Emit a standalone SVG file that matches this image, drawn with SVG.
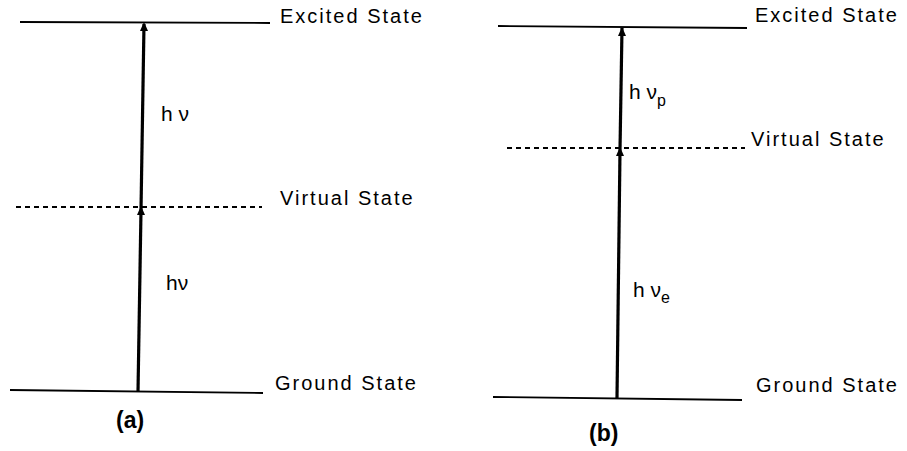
<svg xmlns="http://www.w3.org/2000/svg" width="907" height="451" viewBox="0 0 907 451">
<style>
.lvl{stroke:#000;stroke-width:1.8;fill:none}
.dash{stroke:#000;stroke-width:1.8;stroke-dasharray:5 4;fill:none}
.arr{stroke:#000;stroke-width:3.2;fill:none}
.lab{font-family:"Liberation Sans",Arial,sans-serif;font-size:20px;letter-spacing:2px;fill:#000}
.hv{font-family:"Liberation Sans",Arial,sans-serif;font-size:21px;fill:#000}
.sub{font-size:16px}
.cap{font-family:"Liberation Sans",Arial,sans-serif;font-size:23px;font-weight:bold;fill:#000}
.head{fill:#000}
</style>
<rect width="907" height="451" fill="#fff"/>
<g id="connectors">
<line class="arr" x1="138" y1="392" x2="141" y2="210"/>
<line class="arr" x1="141" y1="210" x2="144" y2="24"/>
<path class="head" d="M144,22 L148,31 L140,31 Z"/>
<path class="head" d="M141,206 L145,215 L137,215 Z"/>
<line class="arr" x1="617" y1="398" x2="620" y2="150"/>
<line class="arr" x1="620" y1="150" x2="622" y2="28"/>
<path class="head" d="M622,27 L626,36 L618,36 Z"/>
<path class="head" d="M620,147 L624,156 L616,156 Z"/>
</g>
<g id="panel-a">
<g id="a-excited"><line class="lvl" x1="20" y1="22" x2="270" y2="23"/><text class="lab" x="280" y="23">Excited State</text></g>
<g id="a-virtual"><line class="dash" x1="16" y1="207" x2="262" y2="207"/><text class="lab" x="280" y="205">Virtual State</text></g>
<g id="a-ground"><line class="lvl" x1="10" y1="390" x2="263" y2="393"/><text class="lab" x="275" y="390">Ground State</text></g>
<text class="hv" x="161" y="121">h ν</text>
<text class="hv" x="166" y="290">hν</text>
<text class="cap" x="116" y="428">(a)</text>
</g>
<g id="panel-b">
<g id="b-excited"><line class="lvl" x1="498" y1="26" x2="747" y2="28"/><text class="lab" x="755" y="22">Excited State</text></g>
<g id="b-virtual"><line class="dash" x1="507" y1="148" x2="745" y2="148"/><text class="lab" x="751" y="146">Virtual State</text></g>
<g id="b-ground"><line class="lvl" x1="493" y1="397" x2="742" y2="400"/><text class="lab" x="756" y="392">Ground State</text></g>
<text class="hv" x="629" y="99">h ν<tspan class="sub" dy="7">p</tspan></text>
<text class="hv" x="633" y="297">h ν<tspan class="sub" dy="6">e</tspan></text>
<text class="cap" x="589" y="441">(b)</text>
</g>
</svg>
